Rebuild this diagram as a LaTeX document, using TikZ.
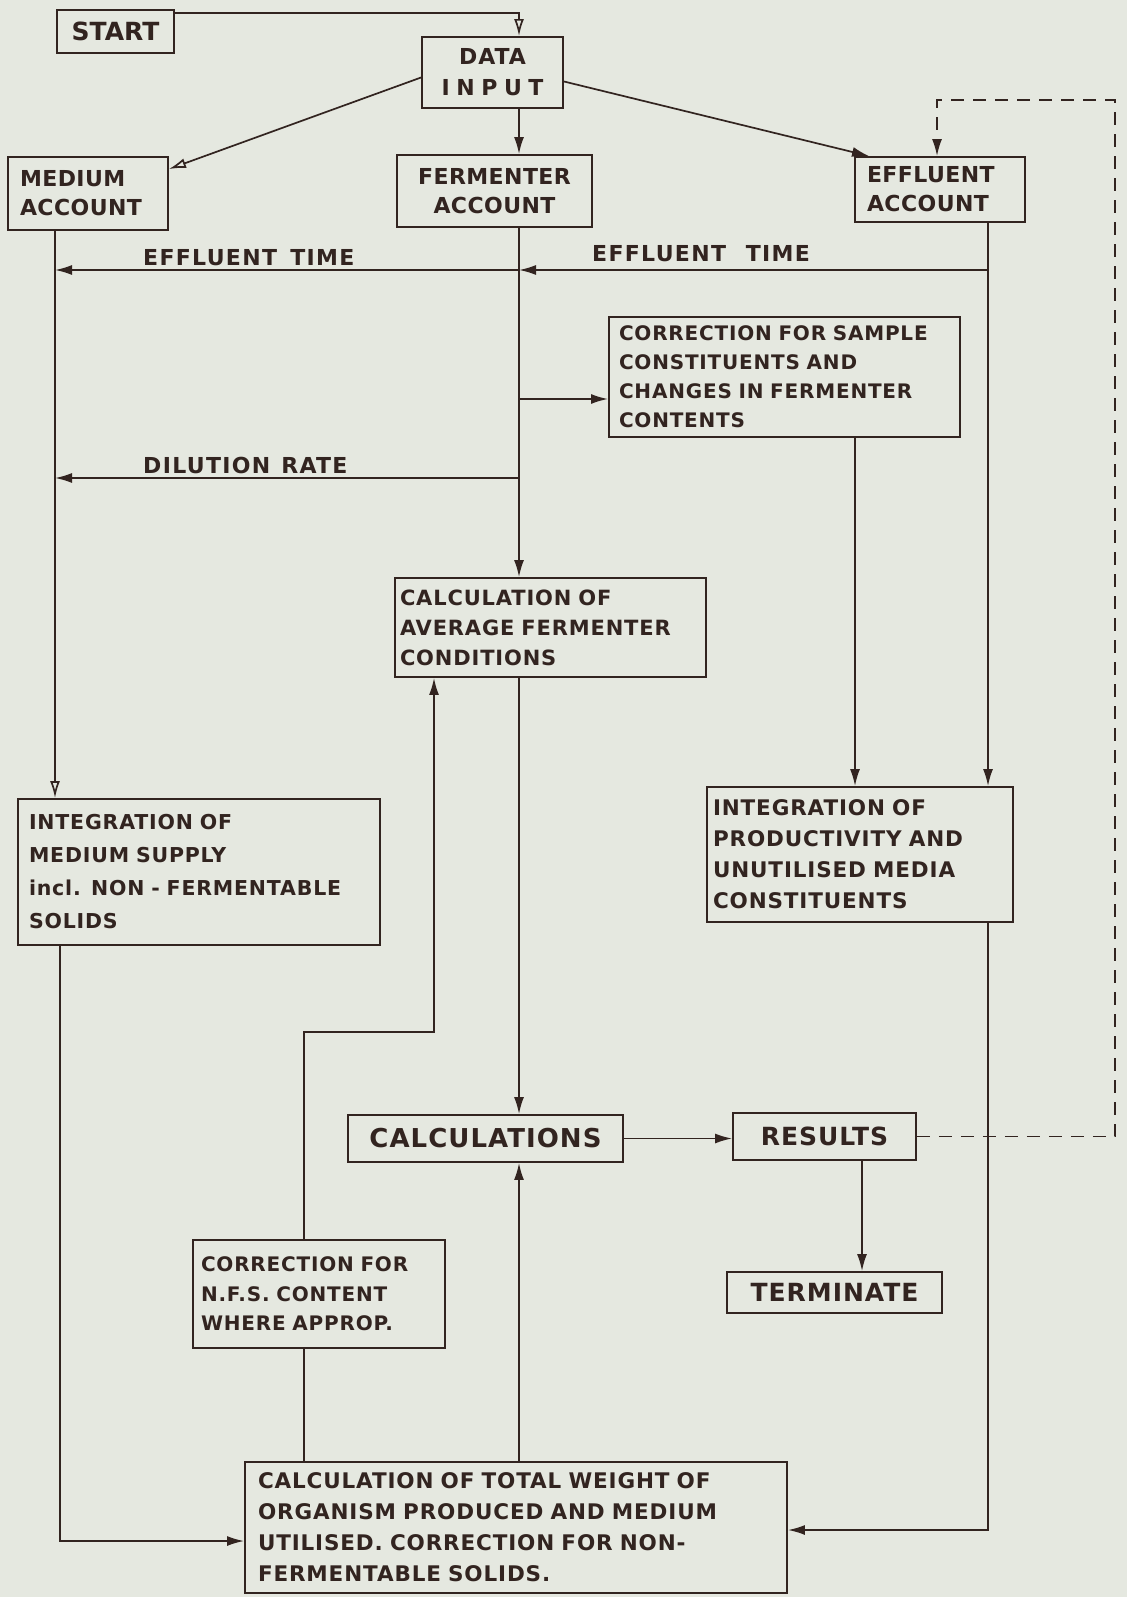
\documentclass[tikz,border=0pt]{standalone}
\usepackage{fontspec}
\setmainfont{DejaVu Sans}
\usetikzlibrary{arrows.meta,calc}
\definecolor{paper}{RGB}{229,232,224}
\definecolor{ink}{RGB}{50,36,32}
\newcommand{\handfont}[3]{\fontsize{#1}{#2}\selectfont\bfseries\addfontfeature{LetterSpace=#3}}
\begin{document}
\begin{tikzpicture}[x=1pt,y=-1pt,
  box/.style={draw=ink, line width=1.9pt, text=ink, rectangle, inner ysep=0pt},
  con/.style={draw=ink, line width=1.7pt},
  arr/.style={con, -{Latex[length=17pt,width=10pt]}},
  oarr/.style={con, -{Latex[open,length=17pt,width=10pt]}},
  dashline/.style={con, dash pattern=on 13pt off 9pt},
  lbl/.style={text=ink, inner sep=0pt, anchor=west, font=\handfont{22}{28}{6}},
]
\fill[paper] (0,0) rectangle (1127,1597);
\useasboundingbox (0,0) rectangle (1127,1597);

% boxes
\node[box, minimum width=117pt, minimum height=43pt, font=\handfont{25}{30}{0}] (start) at (115.5,31.5) {START};
\node[box, minimum width=141pt, minimum height=71pt, align=center, font=\handfont{22}{31}{4}] (data) at (492.5,72.5) {DATA\\{\addfontfeature{LetterSpace=30}INPUT}};
\node[box, minimum width=160pt, minimum height=73pt, align=left, text width=136pt, inner xsep=12pt, font=\handfont{22}{29}{2}] (medium) at (88,193.5) {MEDIUM\\ACCOUNT};
\node[box, minimum width=195pt, minimum height=72pt, align=center, font=\handfont{22}{29}{2}] (fermenter) at (494.5,191) {FERMENTER\\ACCOUNT};
\node[box, minimum width=170pt, minimum height=65pt, align=left, text width=146pt, inner xsep=12pt, font=\handfont{22}{29}{2}] (effluent) at (940,189.5) {EFFLUENT\\ACCOUNT};
\node[box, minimum width=351pt, minimum height=120pt, align=left, text width=331pt, inner xsep=10pt, font=\handfont{20}{29}{4}] (corr1) at (784.5,377) {CORRECTION FOR SAMPLE\\CONSTITUENTS AND\\CHANGES IN FERMENTER\\CONTENTS};
\node[box, minimum width=311pt, minimum height=99pt, align=left, text width=301pt, inner xsep=5pt, font=\handfont{21}{30}{4}] (calcavg) at (550.5,627.5) {CALCULATION OF\\AVERAGE FERMENTER\\CONDITIONS};
\node[box, minimum width=362pt, minimum height=146pt, align=left, text width=340pt, inner xsep=11pt, font=\handfont{20.5}{33}{4}] (intmed) at (199,872) {INTEGRATION OF\\MEDIUM SUPPLY\\incl. NON - FERMENTABLE\\SOLIDS};
\node[box, minimum width=306pt, minimum height=135pt, align=left, text width=294pt, inner xsep=6pt, font=\handfont{21.5}{31}{4}] (intprod) at (860,854.5) {INTEGRATION OF\\PRODUCTIVITY AND\\UNUTILISED MEDIA\\CONSTITUENTS};
\node[box, minimum width=275pt, minimum height=47pt, font=\handfont{26}{30}{4}] (calcs) at (485.5,1138.5) {CALCULATIONS};
\node[box, minimum width=183pt, minimum height=47pt, font=\handfont{25}{30}{4}] (results) at (824.5,1136.5) {RESULTS};
\node[box, minimum width=215pt, minimum height=41pt, font=\handfont{25}{30}{4}] (terminate) at (834.5,1292.5) {TERMINATE};
\node[box, minimum width=252pt, minimum height=108pt, align=left, text width=236pt, inner xsep=8pt, font=\handfont{20}{29.5}{4}] (nfs) at (319,1294) {CORRECTION FOR\\N.F.S. CONTENT\\WHERE APPROP.};
\node[box, minimum width=542pt, minimum height=131pt, align=left, text width=516pt, inner xsep=13pt, font=\handfont{21.5}{31}{4}] (bottom) at (516,1527.5) {CALCULATION OF TOTAL WEIGHT OF\\ORGANISM PRODUCED AND MEDIUM\\UTILISED. CORRECTION FOR NON-\\FERMENTABLE SOLIDS.};

% labels
\node[lbl] (lblET1) at (143,258) {EFFLUENT\hspace{0.6em}TIME};
\node[lbl] (lblET2) at (592,254) {EFFLUENT\hspace{0.9em}TIME};
\node[lbl] (lblDR) at (143,465) {DILUTION\hspace{0.5em}RATE};

% helper coordinates
\coordinate (cM) at (55,0);
\coordinate (cM2) at (60,0);
\coordinate (cF) at (519,0);
\coordinate (cE) at (988,0);
\coordinate (cS) at (855,0);
\coordinate (cN) at (304,0);
\coordinate (cT) at (862,0);
\coordinate (cD) at (937,0);
\coordinate (yET) at (0,270);
\coordinate (yCA) at (0,399);
\coordinate (yDR) at (0,478);
\coordinate (jog) at (434,1032);
\coordinate (yLB) at (0,1541);
\coordinate (yRB) at (0,1530);
\coordinate (dR) at (1115,100);

% connectors
\draw[oarr] ($(start.north east)+(0,4)$) -| (data.north -| cF);
\draw[oarr] ($(data.west)+(0,5)$) -- ($(medium.north east)+(0,13)$);
\draw[arr] (data.south -| cF) -- (fermenter.north -| cF);
\draw[arr] ($(data.east)+(0,9)$) -- ($(effluent.north west)+(15,0)$);
\draw[arr] (fermenter.south -| cF) -- (calcavg.north -| cF);
\draw[arr] (effluent.south -| cE) -- (intprod.north -| cE);
\draw[arr] (yET -| cE) -- (yET -| cF);
\draw[arr] (yET -| cF) -- (yET -| cM);
\draw[oarr] (medium.south -| cM) -- (intmed.north -| cM);
\draw[arr] (yCA -| cF) -- (yCA -| corr1.west);
\draw[arr] (yDR -| cF) -- (yDR -| cM);
\draw[arr] (corr1.south -| cS) -- (intprod.north -| cS);
\draw[arr] (calcavg.south -| cF) -- (calcs.north -| cF);
\draw[arr] (bottom.north -| cF) -- (calcs.south -| cF);
\draw[arr] (intmed.south -| cM2) |- (bottom.west |- yLB);
\draw[arr] (intprod.south -| cE) |- (bottom.east |- yRB);
\draw[con] (bottom.north -| cN) -- (nfs.south -| cN);
\draw[arr] (nfs.north -| cN) |- (jog) -- (calcavg.south -| jog);
\draw[arr] (calcs.east) -- (calcs.east -| results.west);
\draw[arr] (results.south -| cT) -- (terminate.north -| cT);
\draw[dashline, -{Latex[length=17pt,width=10pt]}] (results.east) -| (dR) -| (effluent.north -| cD);
\end{tikzpicture}
\end{document}
